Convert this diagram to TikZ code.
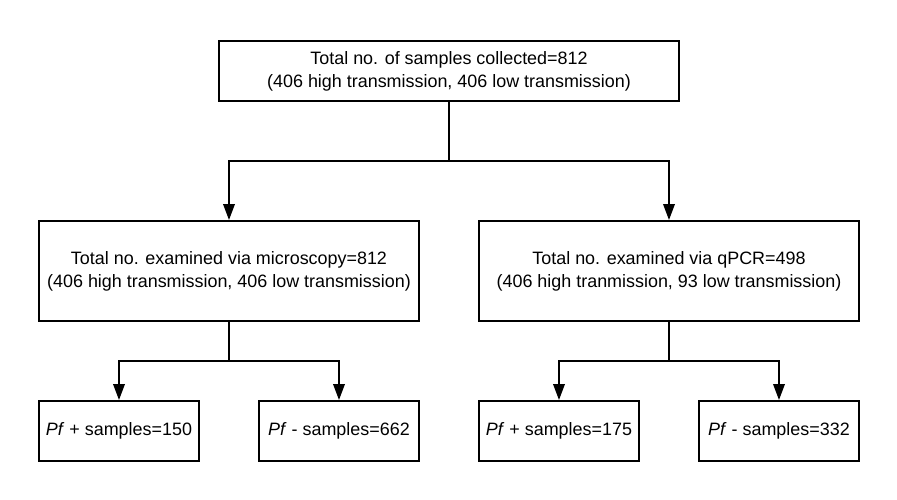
\documentclass[tikz,border=0pt]{standalone}
\usepackage{fontspec}
\setmainfont{Liberation Sans}
\usetikzlibrary{arrows.meta}

\begin{document}
\begin{tikzpicture}[->,>={Triangle[length=0.32cm,width=0.23cm]},
    line width=1.1pt,
    box/.style={rectangle,
          draw,
          align=center,
          inner sep=0pt,
          font=\fontsize{10.2}{13}\selectfont},
    bigbox/.style={box,
          minimum width = 7.6cm,
          minimum height = 2cm},
    smallbox/.style={box,
          minimum width = 3.2cm,
          minimum height = 1.2cm}
    ]

    \useasboundingbox (0,0) rectangle (17.94,-10);

    \node[box,
          minimum width = 9.2cm,
          minimum height = 1.2cm
          ] (total) at (8.98,-1.42)
          {Total no. of samples collected=812\\(406 high transmission, 406 low transmission)};

    \node[bigbox] (micro) at (4.58,-5.42)
          {Total no. examined via microscopy=812\\(406 high transmission, 406 low transmission)};

    \node[bigbox] (qpcr) at (13.38,-5.42)
          {Total no. examined via qPCR=498\\(406 high tranmission, 93 low transmission)};

    \node[smallbox] (mpos) at (2.38,-8.62) {\textit{Pf} + samples=150};
    \node[smallbox] (mneg) at (6.78,-8.62) {\textit{Pf} - samples=662};
    \node[smallbox] (qpos) at (11.18,-8.62) {\textit{Pf} + samples=175};
    \node[smallbox] (qneg) at (15.58,-8.62) {\textit{Pf} - samples=332};

    % split points
    \coordinate (tsplit) at (8.98,-3.22);
    \coordinate (msplit) at (4.58,-7.22);
    \coordinate (qsplit) at (13.38,-7.22);

    %top level
    \draw (total) -- (tsplit) -| (micro);
    \draw (total) -- (tsplit) -| (qpcr);
    %microscopy
    \draw (micro) -- (msplit) -| (mpos);
    \draw (micro) -- (msplit) -| (mneg);
    %qPCR
    \draw (qpcr) -- (qsplit) -| (qpos);
    \draw (qpcr) -- (qsplit) -| (qneg);

\end{tikzpicture}
\end{document}
